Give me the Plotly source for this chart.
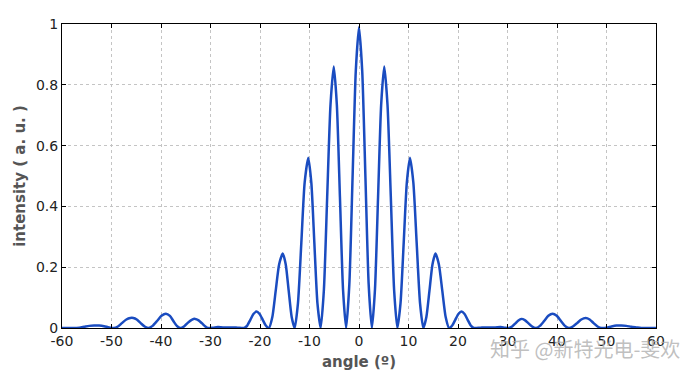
import plotly.graph_objects as go

# angle (degrees) and intensity
angle = [
    -60, -58, -56.5, -55.5, -54.5, -53.5, -52.5, -51.5, -50.5, -49.6,
    -48.7, -47.9, -47.0, -46.2, -45.6, -44.9, -44.1, -43.3, -42.5,
    -41.7, -40.8, -39.9, -39.0, -38.2, -37.5, -36.8, -36.1,
    -35.3, -34.6, -33.8, -33.1, -32.4, -31.7, -31.1, -30.5,
    -29.5, -28.5, -27.5, -26.0, -24.5,
    -23.2, -22.58, -21.95, -21.33, -20.7, -20.08, -19.45, -18.83,
    -18.2, -17.51, -16.83, -16.14, -15.4, -14.8, -14.2, -13.6,
    -13.0, -12.33, -11.65, -10.98, -10.25, -9.63, -9.02, -8.4,
    -7.75, -7.09, -6.43, -5.76, -5.1, -4.475, -3.85, -3.225,
    -2.6, -1.95, -1.3, -0.65, 0, 0.65, 1.3, 1.95, 2.6,
    3.225, 3.85, 4.475, 5.1, 5.76, 6.43, 7.09, 7.75,
    8.39, 9.03, 9.66, 10.3, 10.98, 11.65, 12.33, 13.0,
    13.61, 14.23, 14.84, 15.45, 16.14, 16.83, 17.51, 18.2,
    18.83, 19.45, 20.08, 20.7, 21.33, 21.95, 22.58, 23.2,
    24.5, 26.0, 27.5, 28.6, 29.5, 30.3,
    31.0, 31.6, 32.2, 32.8, 33.5, 34.2, 34.9, 35.7,
    36.55, 37.4, 38.25, 39.1, 39.95, 40.8, 41.6, 42.4,
    43.2, 44.05, 44.9, 45.8, 46.6, 47.4, 48.2, 49.0,
    50.0, 51.0, 52.0, 53.0, 54.0, 55.0, 56.0, 57.0, 58.5, 60,
]
intensity = [
    0, 0, 0.001, 0.004, 0.007, 0.008, 0.008, 0.006, 0.002, 0,
    0.005, 0.016, 0.028, 0.033, 0.033, 0.028, 0.016, 0.005, 0,
    0.007, 0.023, 0.040, 0.047, 0.040, 0.023, 0.007, 0,
    0.006, 0.017, 0.027, 0.030, 0.025, 0.015, 0.006, 0,
    0.001, 0.003, 0.002, 0.002, 0.001,
    0, 0.008, 0.027, 0.046, 0.054, 0.046, 0.027, 0.008,
    0, 0.036, 0.122, 0.209, 0.245, 0.209, 0.122, 0.036,
    0, 0.082, 0.28, 0.478, 0.56, 0.478, 0.28, 0.082,
    0, 0.126, 0.43, 0.734, 0.86, 0.734, 0.43, 0.126,
    0, 0.145, 0.495, 0.845, 0.99, 0.845, 0.495, 0.145, 0,
    0.126, 0.43, 0.734, 0.86, 0.734, 0.43, 0.126, 0,
    0.082, 0.28, 0.478, 0.56, 0.478, 0.28, 0.082, 0,
    0.036, 0.122, 0.209, 0.245, 0.209, 0.122, 0.036, 0,
    0.008, 0.027, 0.046, 0.054, 0.046, 0.027, 0.008, 0,
    0.001, 0.002, 0.002, 0.003, 0.001, 0,
    0.006, 0.015, 0.025, 0.030, 0.026, 0.016, 0.006, 0,
    0.007, 0.023, 0.040, 0.047, 0.040, 0.023, 0.007, 0,
    0.005, 0.016, 0.028, 0.033, 0.028, 0.016, 0.005, 0,
    0.001, 0.005, 0.008, 0.008, 0.007, 0.004, 0.002, 0, 0, 0,
]

x_ticks = [-60, -50, -40, -30, -20, -10, 0, 10, 20, 30, 40, 50, 60]
x_tick_text = ["-60", "-50", "-40", "-30", "-20", "-10", "0", "10", "20", "30", "40", "50", "60"]
y_ticks = [0, 0.2, 0.4, 0.6, 0.8, 1]
y_tick_text = ["0", "0.2", "0.4", "0.6", "0.8", "1"]

fig = go.Figure()
fig.add_trace(go.Scatter(
    x=angle, y=intensity, mode="lines",
    line=dict(color="#1a4cc0", width=2.5, shape="spline", smoothing=0.6),
    hoverinfo="x+y", showlegend=False,
))

axis_common = dict(
    showline=True, linecolor="black", linewidth=1, mirror="ticks",
    ticks="inside", ticklen=4, tickcolor="black",
    showgrid=True, gridcolor="#c4c4c4", griddash="3px,3px", gridwidth=1,
    zeroline=False, automargin=False,
    tickfont=dict(family="DejaVu Sans", size=14, color="#222"),
)

# page body has an 8px default margin, so the figure is sized to fit the window
fig.update_layout(
    width=692, height=367,
    margin=dict(l=54, r=44, t=16, b=47),
    paper_bgcolor="white", plot_bgcolor="white",
    xaxis=dict(range=[-60, 60], tickvals=x_ticks, ticktext=x_tick_text,
               title=dict(text="<b>angle (º)</b>", standoff=8,
                          font=dict(family="DejaVu Sans", size=15, color="#555")),
               **axis_common),
    yaxis=dict(range=[0, 1], tickvals=y_ticks, ticktext=y_tick_text,
               title=dict(text="<b>intensity ( a. u. )</b>", standoff=6,
                          font=dict(family="DejaVu Sans", size=15, color="#555")),
               **axis_common),
    annotations=[dict(
        text="知乎 @新特光电-斐欢", xref="paper", yref="paper",
        x=0.88, y=-0.066, xanchor="center", yanchor="middle", showarrow=False,
        font=dict(family="Noto Sans CJK SC", size=20, color="rgba(175,175,175,0.8)"),
    )],
)

fig.write_html("out.html")
